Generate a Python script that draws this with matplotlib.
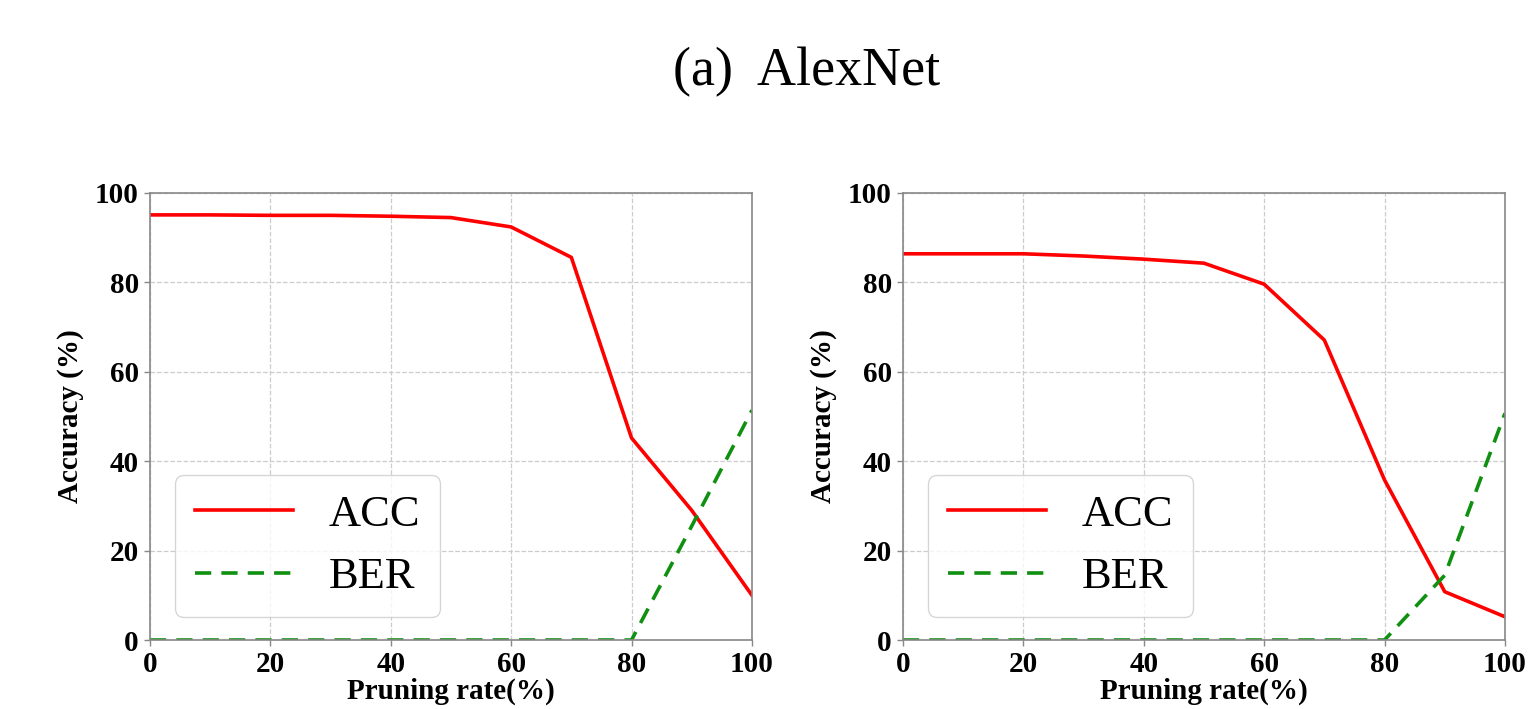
import matplotlib.pyplot as plt
import numpy as np

# Pruning rate (%) and the two curves for each panel
pruning = [0, 10, 20, 30, 40, 50, 60, 70, 80, 90, 100]

acc_left = [95.1, 95.1, 95.0, 95.0, 94.8, 94.5, 92.4, 85.6, 45.2, 29.0, 10.0]
ber_left = [0, 0, 0, 0, 0, 0, 0, 0, 0, 25.5, 51.4]

acc_right = [86.4, 86.4, 86.4, 85.9, 85.2, 84.3, 79.6, 67.1, 35.8, 10.8, 5.2]
ber_right = [0, 0, 0, 0, 0, 0, 0, 0, 0, 14.5, 50.7]

xticks = [0, 20, 40, 60, 80, 100]
yticks = [0, 20, 40, 60, 80, 100]

plt.rcParams['font.family'] = ['Liberation Serif', 'DejaVu Serif']

fig = plt.figure(figsize=(15.33, 7.09), dpi=100)
fig.text(0.526, 0.898, "(a)  AlexNet", ha='center', va='center', fontsize=39)

panels = [
    ([0.0978, 0.0973, 0.3927, 0.6305], acc_left, ber_left),
    ([0.589, 0.0973, 0.3927, 0.6305], acc_right, ber_right),
]

for rect, acc, ber in panels:
    ax = fig.add_axes(rect)
    ax.plot(pruning, acc, color='red', linewidth=2.6, label='ACC')
    ax.plot(pruning, ber, color='#109010', linestyle='--', linewidth=2.6,
            dashes=(4.5, 2.8), label='BER')
    ax.set_xlim(0, 100)
    ax.set_ylim(0, 100)
    ax.set_xticks(xticks)
    ax.set_yticks(yticks)
    ax.tick_params(labelsize=21, length=4, width=1, color='#888888', pad=4)
    for lab in ax.get_xticklabels() + ax.get_yticklabels():
        lab.set_fontweight('bold')
    ax.grid(True, linestyle='--', color='#cccccc', linewidth=0.9)
    for sp in ax.spines.values():
        sp.set_color('#888888')
        sp.set_linewidth(1.2)
    # the x label sits right at the bottom edge, as in the reference
    ax.set_xlabel("Pruning rate(%)", fontsize=21, fontweight='bold', labelpad=0)
    ax.set_ylabel("Accuracy (%)", fontsize=21, fontweight='bold', labelpad=8)
    ax.legend(loc='lower left', fontsize=32, frameon=True, fancybox=True,
              handlelength=2.2, borderpad=0.45, labelspacing=0.5,
              handletextpad=0.8, borderaxespad=0,
              bbox_to_anchor=(0.042, 0.051))

plt.savefig("out.png", dpi=100)
